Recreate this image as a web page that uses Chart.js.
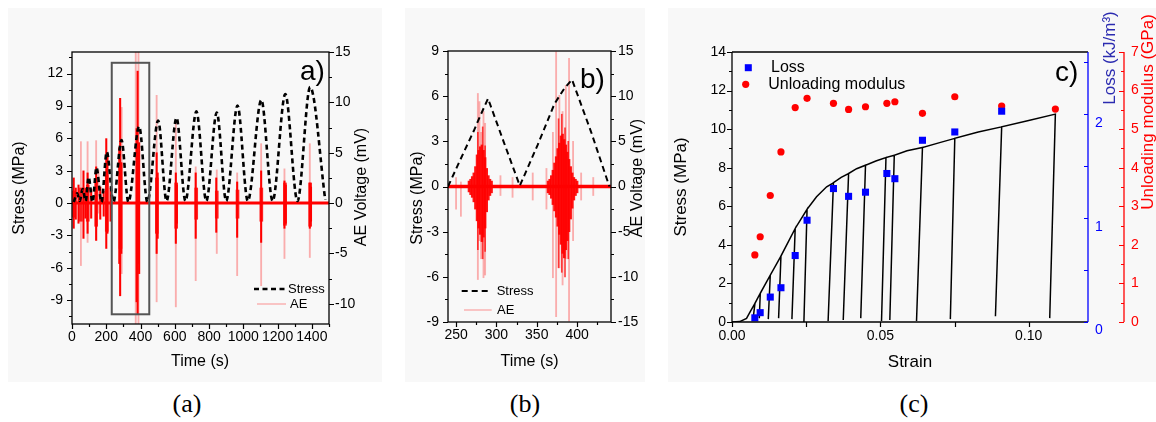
<!DOCTYPE html>
<html><head><meta charset="utf-8">
<script src="https://cdn.jsdelivr.net/npm/chart.js@4.4.1/dist/chart.umd.min.js"></script>
<style>
html,body{margin:0;padding:0;background:#fff}
body{width:1156px;height:422px;position:relative;overflow:hidden}
.bg{position:absolute;background:#f8f8f8}
canvas{position:absolute;top:0}
.cap{position:absolute;top:389px;width:60px;margin-left:-30px;text-align:center;font:26px/30px "Liberation Serif","Times New Roman",serif;color:#000}
</style></head><body>
<div class="bg" style="left:8px;top:8px;width:374px;height:374px"></div>
<div class="bg" style="left:405px;top:8px;width:240px;height:374px"></div>
<div class="bg" style="left:668px;top:8px;width:488px;height:374px"></div>
<canvas id="ca" width="390" height="380" style="left:0"></canvas>
<canvas id="cb" width="260" height="380" style="left:395px"></canvas>
<canvas id="cc" width="496" height="380" style="left:660px"></canvas>
<div class="cap" style="left:187px">(a)</div>
<div class="cap" style="left:525px">(b)</div>
<div class="cap" style="left:914px">(c)</div>
<script>
// ================= DATA =================
// ---- Panel (a): stress cycles (time s, stress MPa) ----
const stressA_t = [10, 30, 45, 62, 80, 97, 120, 143, 172, 203, 242, 289, 329, 392, 440, 503, 552, 610, 662, 726, 784, 845, 900, 966, 1026, 1105, 1171, 1245, 1316, 1390, 1478];
const stressA_v = [0.1, 0.9, 0.2, 1.3, 0.2, 2.4, 0.1, 3.3, 0.1, 4.75, 0.1, 5.84, 0.1, 7.1, 0.1, 7.65, 0.2, 7.9, 0.2, 8.5, 0.2, 8.4, 0.2, 9.05, 0.2, 9.55, 0.2, 10.1, 0.2, 10.75, 0.3];
// ---- Panel (a): AE bursts (time s, max mV, min mV) ----
const aeA_bodyT  = [12, 52, 92, 141, 203, 283, 386, 495, 608, 725, 845, 966, 1105, 1243, 1390];
const aeA_bodyHi = [1.2, 1.5, 1.8, 2.2, 2.8, 4.0, 5.0, 2.5, 2.0, 1.5, 1.2, 1.3, 1.5, 2.0, 2.0];
const aeA_bodyLo = [-1.4, -1.8, -1.8, -2.3, -2.8, -4.5, -6.0, -3.0, -2.5, -1.6, -1.5, -1.5, -1.8, -2.2, -2.3];
const aeA_spikeT  = [10, 22, 38, 67, 78, 91, 112, 141, 165, 185, 200, 207, 225, 276, 281, 288, 377, 383, 392, 494, 500, 606, 612, 722, 842, 964, 1104, 1240, 1248, 1388, 1395];
const aeA_spikeHi = [2.5, 1.5, 1.8, 3.2, 1.5, 3.0, 1.4, 3.6, 1.6, 1.2, 6.4, 4.9, 1.5, 5.5, 10.4, 4.0, 7.4, 13.1, 6.0, 5.0, 3.0, 3.0, 1.8, 3.0, 2.5, 2.1, 3.2, 2.2, 1.8, 2.0, 1.6];
const aeA_spikeLo = [-2.5, -1.6, -2.0, -3.5, -1.5, -3.0, -1.5, -3.7, -1.6, -1.3, -4.5, -3.0, -1.8, -6.0, -9.2, -5.0, -9.8, -11.0, -7.0, -5.0, -3.5, -4.0, -2.0, -3.5, -2.9, -3.4, -3.9, -2.5, -2.0, -2.5, -1.8];
const aeA_faintT  = [52, 91, 141, 155, 290, 372, 388, 494, 606, 722, 845, 964, 1104, 1240, 1388];
const aeA_faintHi = [6.1, 6.1, 6.2, 3.3, 9.5, 15, 15, 10.7, 8.2, 3.6, 3.3, 3.0, 5.9, 3.4, 5.9];
const aeA_faintLo = [-6.2, -3.9, -3.7, -1.0, -7.0, -12, -12, -9.8, -10.3, -7.7, -5.0, -7.2, -8.2, -5.5, -5.4];
const aeA_baseT = [0, 1500];
const aeA_baseV = [0, 0];
const boxA_t = [232, 451];        // zoom window (time)
const boxA_s = [-10.3, 13.0];     // zoom window (stress)
// ---- Panel (a): ticks ----
const aTimeTicks = [0, 200, 400, 600, 800, 1000, 1200, 1400];
const aTimeMinor = [100, 300, 500, 700, 900, 1100, 1300, 1500];
const aStressTicks = [-9, -6, -3, 0, 3, 6, 9, 12];
const aStressMinor = [-10.5, -7.5, -4.5, -1.5, 1.5, 4.5, 7.5, 10.5, 13.5];
const aAETicks = [-10, -5, 0, 5, 10, 15];
const aAEMinor = [-7.5, -2.5, 2.5, 7.5, 12.5];

// ---- Panel (b): stress (time s, stress MPa) ----
const stressB_t = [240, 255, 272, 280, 289.6, 309, 329, 351, 372, 384, 393.7, 417.5, 440];
const stressB_v = [0, 1.75, 3.7, 4.7, 5.84, 2.97, 0.05, 2.75, 5.5, 6.5, 7.1, 3.6, 0];
// ---- Panel (b): AE ----
const aeB_bodyT  = [266, 268, 270, 272, 274, 276, 278, 280, 282, 284, 286, 288, 290, 292, 294, 364, 366, 368, 370, 372, 374, 376, 378, 380, 382, 384, 386, 388, 390, 392, 394, 396, 398, 400];
const aeB_bodyHi = [0.6, 0.8, 1.1, 1.5, 2.2, 3.5, 4.0, 4.4, 4.6, 4.0, 3.2, 2.0, 1.2, 0.8, 0.6, 0.6, 0.8, 1.2, 1.8, 2.6, 3.3, 4.2, 4.8, 5.6, 5.8, 5.2, 4.6, 3.8, 3.0, 2.2, 1.5, 1.0, 0.8, 0.6];
const aeB_bodyLo = [-0.6, -0.9, -1.2, -1.7, -2.5, -3.8, -4.6, -5.3, -6.1, -5.6, -4.6, -2.8, -1.5, -1.0, -0.7, -0.7, -0.9, -1.3, -2.0, -2.7, -3.4, -4.4, -5.3, -6.4, -7.4, -7.9, -7.0, -6.0, -5.0, -3.6, -2.4, -1.5, -1.0, -0.7];
const aeB_spikeT  = [277, 283, 286, 377, 381, 385, 389];
const aeB_spikeHi = [6.0, 6.6, 4.5, 7.5, 8.0, 6.5, 5.0];
const aeB_spikeLo = [-7.0, -8.0, -7.2, -9.0, -9.5, -10.0, -8.0];
const aeB_faintT  = [250, 256, 277, 279, 281, 284, 286, 305, 320, 345, 362, 370, 374, 378, 382, 386, 390, 395, 405, 420];
const aeB_faintHi = [1.0, 0.5, 10.3, 9.4, 6.0, 8.3, 7.0, 1.2, 1.0, 1.5, 2.0, 6.0, 14.9, 10.1, 8.3, 11.2, 14.2, 5.0, 1.5, 1.0];
const aeB_faintLo = [-2.5, -3.3, -10.3, -6.0, -8.0, -10.1, -9.8, -1.0, -1.2, -1.5, -2.5, -10.1, -14.4, -9.0, -10.9, -8.0, -14.9, -6.0, -1.5, -1.0];
const aeB_baseT = [240, 442];
const aeB_baseV = [0, 0];
// ---- Panel (b): ticks ----
const bTimeTicks = [250, 300, 350, 400];
const bTimeMinor = [275, 325, 375, 425];
const bStressTicks = [-9, -6, -3, 0, 3, 6, 9];
const bStressMinor = [-7.5, -4.5, -1.5, 1.5, 4.5, 7.5];
const bAETicks = [-15, -10, -5, 0, 5, 10, 15];
const bAEMinor = [-12.5, -7.5, -2.5, 2.5, 7.5, 12.5];

// ---- Panel (c): stress-strain envelope + unloading cycles ----
const envStrain = [0, 0.0026, 0.0049, 0.0061, 0.0285, 0.0319, 0.0368, 0.042, 0.0485, 0.059, 0.070, 0.083, 0.100];
const envStress = [0, 0.02, 0.19, 0.53, 6.49, 7.01, 7.5, 7.95, 8.35, 8.88, 9.3, 9.85, 10.45];
const cycPeakStrain = [0.00774, 0.00953, 0.0129, 0.0165, 0.0213, 0.0253, 0.0342, 0.0393, 0.0450, 0.0519, 0.0547, 0.0642, 0.0751, 0.0909, 0.1090];
const cycPeakStress = [0.97, 1.49, 2.43, 3.42, 4.85, 5.84, 7.22, 7.70, 8.13, 8.53, 8.65, 9.05, 9.52, 10.12, 10.78];
const cycBaseStrain = [0.00718, 0.0092, 0.01223, 0.01571, 0.0202, 0.02424, 0.0324, 0.0375, 0.0434, 0.0504, 0.0532, 0.0622, 0.0736, 0.0888, 0.1071];
const cycBaseStress = [0.25, 0.2, 0.15, 0.2, 0.15, 0.0, 0.05, 0.1, 0.2, 0.05, 0.1, 0.05, 0.15, 0.3, 0.2];
const lossStrain = [0.0077, 0.0095, 0.0129, 0.0165, 0.0213, 0.0253, 0.0342, 0.0393, 0.0450, 0.0522, 0.0549, 0.0642, 0.0751, 0.0909];
const lossVal    = [0.04, 0.09, 0.24, 0.33, 0.64, 0.98, 1.285, 1.21, 1.25, 1.43, 1.38, 1.75, 1.83, 2.03];
const modStrain = [0.0077, 0.0095, 0.0129, 0.0165, 0.0213, 0.0253, 0.0342, 0.0393, 0.0450, 0.0522, 0.0549, 0.0642, 0.0751, 0.0909, 0.1090];
const modVal    = [1.74, 2.21, 3.28, 4.41, 5.56, 5.80, 5.67, 5.51, 5.58, 5.67, 5.71, 5.41, 5.84, 5.60, 5.52];
// ---- Panel (c): ticks ----
const cStrainTicks = [0, 0.05, 0.1];
const cStrainMarks = [0, 0.025, 0.05, 0.075, 0.1];
const cStressTicks = [0, 2, 4, 6, 8, 10, 12, 14];
const cStressMinor = [1, 3, 5, 7, 9, 11, 13];
const cLossTicks = [0, 1, 2];
const cLossMarks = [0, 0.5, 1, 1.5, 2, 2.5];
const cModTicks = [0, 1, 2, 3, 4, 5, 6, 7];
const cModMinor = [0.5, 1.5, 2.5, 3.5, 4.5, 5.5, 6.5];

// ================= HELPERS =================
const FAM = '"Liberation Sans", Arial, Helvetica, sans-serif';
Chart.defaults.font.family = FAM;
Chart.defaults.font.size = 14;
Chart.defaults.color = '#000';

const pts = (X, Y) => X.map((x, i) => ({x, y: Y[i]}));
function bars(T, Hi, Lo, color, thick, yID, order) {
  return {type: 'bar', data: T.map((t, i) => ({x: t, y: [Lo[i], Hi[i]]})), backgroundColor: color,
    barThickness: thick, grouped: false, borderWidth: 0, borderSkipped: false, yAxisID: yID, order, clip: 0};
}
function axis(pos, min, max, labels, size, pad, o = {}) {
  return {
    type: 'linear', position: pos, min, max, offset: false, weight: o.weight || 0,
    grid: {display: false, drawTicks: false}, border: {display: false},
    ticks: {padding: pad, autoSkip: false, maxRotation: 0, minRotation: 0, color: o.color || '#000',
      font: {size: o.size || 14}, labelOffset: o.labelOffset || 0, callback: o.fmt || (v => String(v))},
    afterBuildTicks: s => { s.ticks = labels.map(v => ({value: v})); },
    afterFit: s => { if (s.isHorizontal()) s.height = size; else s.width = size; }
  };
}
function line(ctx, x0, y0, x1, y1, color, w) {
  ctx.strokeStyle = color; ctx.lineWidth = w; ctx.beginPath(); ctx.moveTo(x0, y0); ctx.lineTo(x1, y1); ctx.stroke();
}
function marksV(ctx, sc, x, vals, len, color) {
  ctx.strokeStyle = color; ctx.lineWidth = 1.2; ctx.beginPath();
  vals.forEach(v => { const y = Math.round(sc.getPixelForValue(v)) + 0.5; ctx.moveTo(x, y); ctx.lineTo(x + len, y); });
  ctx.stroke();
}
function marksH(ctx, sc, y, vals, len, color) {
  ctx.strokeStyle = color; ctx.lineWidth = 1.2; ctx.beginPath();
  vals.forEach(v => { const x = Math.round(sc.getPixelForValue(v)) + 0.5; ctx.moveTo(x, y); ctx.lineTo(x, y + len); });
  ctx.stroke();
}
function text(ctx, s, x, y, size, color, align) {
  ctx.font = size + 'px ' + FAM; ctx.fillStyle = color || '#000';
  ctx.textAlign = align || 'center'; ctx.textBaseline = 'middle'; ctx.fillText(s, x, y);
}
function vtext(ctx, s, x, y, size, color) {
  ctx.save(); ctx.translate(x, y); ctx.rotate(-Math.PI / 2); text(ctx, s, 0, 0, size, color, 'center'); ctx.restore();
}
const baseOpts = (padTop, scales) => ({
  responsive: false, animation: false, events: [],
  layout: {padding: {top: padTop, left: 0, right: 0, bottom: 0}},
  plugins: {legend: {display: false}, tooltip: {enabled: false}},
  scales
});

// ================= PANEL (a) =================
const decoA = {id: 'decoA', afterDraw(chart) {
  const {ctx, chartArea: {left: L, right: R, top: T, bottom: B}, scales: {x, yL, yR}} = chart;
  ctx.save();
  const bx0 = x.getPixelForValue(boxA_t[0]), bx1 = x.getPixelForValue(boxA_t[1]);
  const by0 = yL.getPixelForValue(boxA_s[1]), by1 = yL.getPixelForValue(boxA_s[0]);
  ctx.strokeStyle = '#555'; ctx.lineWidth = 2; ctx.strokeRect(bx0, by0, bx1 - bx0, by1 - by0);
  ctx.strokeStyle = '#000'; ctx.lineWidth = 1.3; ctx.strokeRect(L, T, R - L, B - T);
  marksV(ctx, yL, L, aStressTicks, -5, '#000'); marksV(ctx, yL, L, aStressMinor, -3, '#000');
  marksV(ctx, yR, R, aAETicks, 5, '#000'); marksV(ctx, yR, R, aAEMinor, 3, '#000');
  marksH(ctx, x, B, aTimeTicks, 5, '#000'); marksH(ctx, x, B, aTimeMinor, 3, '#000');
  vtext(ctx, 'Stress (MPa)', 20, 188, 16);
  vtext(ctx, 'AE Voltage (mV)', 362, 187, 16);
  text(ctx, 'Time (s)', 200, 362, 16);
  text(ctx, 'a)', 300, 72, 28, '#000', 'left');
  // legend
  ctx.setLineDash([5, 3.5]); line(ctx, 254, 289, 286, 289, '#000', 2.5); ctx.setLineDash([]);
  text(ctx, 'Stress', 288, 289, 13, '#000', 'left');
  line(ctx, 257, 304, 286, 304, 'rgba(255,0,0,0.35)', 1.2);
  text(ctx, 'AE', 290, 304, 13, '#000', 'left');
  ctx.restore();
}};
new Chart(document.getElementById('ca'), {
  type: 'bar',
  data: {datasets: [
    {type: 'line', data: pts(stressA_t, stressA_v), yAxisID: 'yL', borderColor: '#000', borderWidth: 2.6,
      borderDash: [5, 3.5], pointRadius: 0, cubicInterpolationMode: 'monotone', order: 0, clip: 0},
    bars(aeA_faintT, aeA_faintHi, aeA_faintLo, 'rgba(255,0,0,0.3)', 1.2, 'yR', 4),
    bars(aeA_bodyT, aeA_bodyHi, aeA_bodyLo, 'rgba(255,0,0,0.85)', 3, 'yR', 3),
    bars(aeA_spikeT, aeA_spikeHi, aeA_spikeLo, '#ff0000', 1.4, 'yR', 2),
    {type: 'line', data: pts(aeA_baseT, aeA_baseV), yAxisID: 'yR', borderColor: '#ff0000', borderWidth: 3, pointRadius: 0, order: 1, clip: 0}
  ]},
  options: baseOpts(52, {
    x: axis('bottom', 0, 1500, aTimeTicks, 56, 5),
    yL: axis('left', -11.2, 14, aStressTicks, 72, 9),
    yR: axis('right', -12, 15, aAETicks, 61, 6)
  }),
  plugins: [decoA]
});

// ================= PANEL (b) =================
const decoB = {id: 'decoB', afterDraw(chart) {
  const {ctx, chartArea: {left: L, right: R, top: T, bottom: B}, scales: {x, yL, yR}} = chart;
  ctx.save();
  ctx.strokeStyle = '#000'; ctx.lineWidth = 1.3; ctx.strokeRect(L, T, R - L, B - T);
  marksV(ctx, yL, L, bStressTicks, -5, '#000'); marksV(ctx, yL, L, bStressMinor, -3, '#000');
  marksV(ctx, yR, R, bAETicks, 5, '#000'); marksV(ctx, yR, R, bAEMinor, 3, '#000');
  marksH(ctx, x, B, bTimeTicks, 5, '#000'); marksH(ctx, x, B, bTimeMinor, 3, '#000');
  vtext(ctx, 'Stress (MPa)', 23, 198, 16);
  vtext(ctx, 'AE Voltage (mV)', 243, 178, 16);
  text(ctx, 'Time (s)', 134.5, 362, 16);
  text(ctx, 'b)', 185, 80, 28, '#000', 'left');
  ctx.setLineDash([6, 4]); line(ctx, 66.7, 291, 96.7, 291, '#000', 2); ctx.setLineDash([]);
  text(ctx, 'Stress', 101.7, 291, 13, '#000', 'left');
  line(ctx, 69, 310, 96.7, 310, 'rgba(255,0,0,0.35)', 1.2);
  text(ctx, 'AE', 102, 310, 13, '#000', 'left');
  ctx.restore();
}};
new Chart(document.getElementById('cb'), {
  type: 'bar',
  data: {datasets: [
    {type: 'line', data: pts(stressB_t, stressB_v), yAxisID: 'yL', borderColor: '#000', borderWidth: 2,
      borderDash: [6, 4], pointRadius: 0, order: 0, clip: 0},
    bars(aeB_faintT, aeB_faintHi, aeB_faintLo, 'rgba(255,0,0,0.3)', 1.2, 'yR', 4),
    bars(aeB_bodyT, aeB_bodyHi, aeB_bodyLo, 'rgba(255,0,0,0.92)', 1.9, 'yR', 3),
    bars(aeB_spikeT, aeB_spikeHi, aeB_spikeLo, 'rgba(255,0,0,0.75)', 1, 'yR', 2),
    {type: 'line', data: pts(aeB_baseT, aeB_baseV), yAxisID: 'yR', borderColor: '#ff0000', borderWidth: 3.5, pointRadius: 0, order: 1, clip: 0}
  ]},
  options: baseOpts(51, {
    x: axis('bottom', 240, 442, bTimeTicks, 58, 5),
    yL: axis('left', -9, 9, bStressTicks, 53, 9),
    yR: axis('right', -15, 15, bAETicks, 44, 7)
  }),
  plugins: [decoB]
});

// ================= PANEL (c) =================
const curveC = [];
{
  let ei = 0;
  for (let k = 0; k < cycPeakStrain.length; k++) {
    while (ei < envStrain.length && envStrain[ei] < cycPeakStrain[k]) { curveC.push({x: envStrain[ei], y: envStress[ei]}); ei++; }
    curveC.push({x: cycPeakStrain[k], y: cycPeakStress[k]});
    curveC.push({x: cycBaseStrain[k], y: cycBaseStress[k]});
    if (k < cycPeakStrain.length - 1) curveC.push({x: cycPeakStrain[k], y: cycPeakStress[k]});
  }
}
const decoC = {id: 'decoC', afterDraw(chart) {
  const {ctx, chartArea: {left: L, right: R, top: T, bottom: B}, scales: {x, yL, yB, yR}} = chart;
  ctx.save();
  line(ctx, L, T, L, B, '#000', 1.3); line(ctx, L, T, R, T, '#000', 1.3); line(ctx, L, B, R, B, '#000', 1.3);
  line(ctx, R, T, R, B, '#0000ff', 1.3);
  const rx = yR.left;
  line(ctx, rx, T, rx, B, '#ff0000', 1.3);
  marksH(ctx, x, B, cStrainMarks, 5, '#000');
  marksV(ctx, yL, L, cStressTicks, -5, '#000'); marksV(ctx, yL, L, cStressMinor, -3, '#000');
  marksV(ctx, yB, R, cLossMarks, -4, '#0000ff');
  marksV(ctx, yR, rx, cModTicks, -5, '#ff0000'); marksV(ctx, yR, rx, cModMinor, -3, '#ff0000');
  vtext(ctx, 'Stress (MPa)', 21.7, 187, 17);
  vtext(ctx, 'Loss (kJ/m³)', 450, 58, 17, '#2b2bb0');
  vtext(ctx, 'Unloading modulus (GPa)', 488, 112, 17, '#ff0000');
  text(ctx, 'Strain', 250, 362, 17);
  text(ctx, 'c)', 395, 73, 28, '#000', 'left');
  ctx.fillStyle = '#0000ff'; ctx.fillRect(88.3 - 3.5, 67.7 - 3.5, 7, 7);
  text(ctx, 'Loss', 111, 67.7, 16, '#000', 'left');
  ctx.fillStyle = '#ff0000'; ctx.beginPath(); ctx.arc(85.7, 84.3, 3.6, 0, Math.PI * 2); ctx.fill();
  text(ctx, 'Unloading modulus', 108.3, 84.3, 16, '#000', 'left');
  ctx.restore();
}};
new Chart(document.getElementById('cc'), {
  type: 'scatter',
  data: {datasets: [
    {data: curveC, yAxisID: 'yL', showLine: true, borderColor: '#000', borderWidth: 1.5, pointRadius: 0, order: 3, clip: 0},
    {data: pts(lossStrain, lossVal), yAxisID: 'yB', pointStyle: 'rect', pointRadius: 5, backgroundColor: '#0000ff', borderWidth: 0, order: 1},
    {data: pts(modStrain, modVal), yAxisID: 'yR', pointStyle: 'circle', pointRadius: 3.6, backgroundColor: '#ff0000', borderWidth: 0, order: 2}
  ]},
  options: baseOpts(52, {
    x: axis('bottom', 0, 0.12, cStrainTicks, 58, 6, {fmt: v => v.toFixed(2)}),
    yL: axis('left', 0, 14, cStressTicks, 72, 6),
    yB: axis('right', 0, 2.6, cLossTicks, 36, 7, {color: '#0000ff', labelOffset: 8.5, weight: 0}),
    yR: axis('right', 0, 7, cModTicks, 32, 7, {color: '#ff0000', weight: 1})
  }),
  plugins: [decoC]
});
</script>
</body></html>
